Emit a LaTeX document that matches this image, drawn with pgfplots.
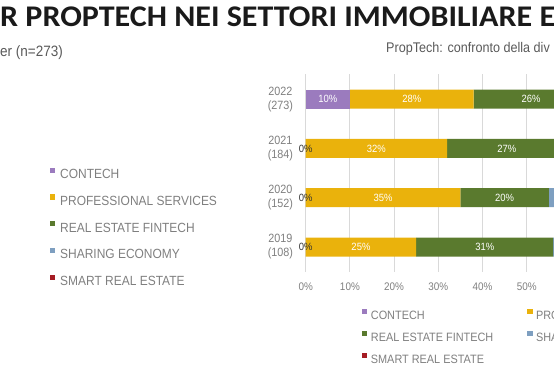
\documentclass[border=0pt]{standalone}
\usepackage{fontspec}
\setmainfont{Liberation Sans}
\newfontfamily\narrow[FakeStretch=0.9]{Liberation Sans}
\newfontfamily\titlefont[FakeStretch=1.068]{Carlito}
\usepackage{pgfplots}
\pgfplotsset{compat=1.18}
\definecolor{cCon}{HTML}{9B7BBE}
\definecolor{cPro}{HTML}{EAB20C}
\definecolor{cFin}{HTML}{5A7A2E}
\definecolor{cSha}{HTML}{7E9FC0}
\definecolor{cSma}{HTML}{A51C24}
\definecolor{txtgrey}{HTML}{7F7F7F}
\definecolor{subgrey}{HTML}{595959}
\definecolor{gridc}{HTML}{D9D9D9}
\definecolor{titlec}{HTML}{1A1A1A}
\begin{document}
\begin{tikzpicture}
\useasboundingbox (0pt,0pt) rectangle (554pt,372pt);
\clip (0pt,0pt) rectangle (554pt,372pt);
\node[anchor=base west, inner sep=0pt, text=titlec, font=\titlefont\bfseries\fontsize{30}{30}\selectfont] at (0pt,345.3pt) {R PROPTECH NEI SETTORI IMMOBILIARE E};
\node[anchor=base west, inner sep=0pt, text=subgrey, font=\narrow\fontsize{15}{15}\selectfont] at (0pt,315pt) {er (n=273)};
\node[anchor=base west, inner sep=0pt, text=subgrey, font=\narrow\fontsize{14}{14}\selectfont] at (386pt,319pt) {PropTech: confronto della div};

% main stacked bar chart
\begin{axis}[
  at={(305.7pt,100.3pt)}, anchor=south west,
  scale only axis, width=442pt, height=197.2pt,
  xmin=0, xmax=100, ymin=-0.5, ymax=3.5,
  xbar stacked, bar width=19pt,
  /pgf/number format/assume math mode=true,
  ytick={0,1,2,3},
  yticklabels={{2019\\(108)},{2020\\(152)},{2021\\(184)},{2022\\(273)}},
  yticklabel style={align=center, anchor=east, inner sep=0pt, xshift=-12.5pt, text=txtgrey, font=\narrow\fontsize{12}{14}\selectfont},
  xtick={0,10,...,50},
  xticklabel={\pgfmathprintnumber{\tick}\%},
  xticklabel style={anchor=center, inner sep=0pt, yshift=-15pt, text=txtgrey, font=\narrow\fontsize{11}{11}\selectfont},
  xmajorgrids, grid style={gridc, line width=0.9pt},
  axis line style={draw=none}, major tick length=0pt,
  clip=false,
]
\addplot[fill=cCon, draw=none] coordinates {(0,0) (0,1) (0,2) (10,3)};
\addplot[fill=cPro, draw=none] coordinates {(25,0) (35,1) (32,2) (28,3)};
\addplot[fill=cFin, draw=none] coordinates {(31,0) (20,1) (27,2) (26,3)};
\addplot[fill=cSha, draw=none] coordinates {(15,0) (13,1) (12,2) (9,3)};
\addplot[fill=cSma, draw=none] coordinates {(29,0) (32,1) (29,2) (27,3)};
\end{axis}

% data labels
\begin{axis}[
  at={(305.7pt,100.3pt)}, anchor=south west,
  scale only axis, width=442pt, height=197.2pt,
  xmin=0, xmax=100, ymin=-0.5, ymax=3.5,
  hide axis, clip=false,
]
\addplot[draw=none, nodes near coords, point meta=explicit symbolic,
  nodes near coords style={anchor=center, inner sep=0pt, text=white, font=\narrow\fontsize{10.5}{10.5}\selectfont}]
  coordinates {(5,3) [10\%] (24,3) [28\%] (51,3) [26\%]
               (16,2) [32\%] (45.5,2) [27\%]
               (17.5,1) [35\%] (45,1) [20\%]
               (12.5,0) [25\%] (40.5,0) [31\%]};
\addplot[draw=none, nodes near coords, point meta=explicit symbolic,
  nodes near coords style={anchor=center, inner sep=0pt, text=black!80, font=\narrow\fontsize{10.5}{10.5}\selectfont}]
  coordinates {(0,2) [0\%] (0,1) [0\%] (0,0) [0\%]};
\end{axis}

% left legend
\begin{axis}[
  at={(0pt,0pt)}, anchor=south west, scale only axis, width=554pt, height=372pt,
  xmin=0, xmax=1, ymin=0, ymax=1, hide axis,
  legend image code/.code={\fill[#1] (0pt,1.9pt) rectangle (5.2pt,7.1pt);},
  legend cell align=left,
  legend style={at={(0.09025,0.54973)}, anchor=north west, draw=none, fill=none, inner sep=0pt,
    font=\narrow\fontsize{13.3}{13.3}\selectfont, text=txtgrey,
    nodes={inner sep=0pt, text height=9.5pt, text depth=2pt},
    row sep=13.9pt,
    /tikz/every odd column/.append style={column sep=4.8pt}},
]
\addlegendimage{fill=cCon, draw=none}\addlegendentry{CONTECH}
\addlegendimage{fill=cPro, draw=none}\addlegendentry{PROFESSIONAL SERVICES}
\addlegendimage{fill=cFin, draw=none}\addlegendentry{REAL ESTATE FINTECH}
\addlegendimage{fill=cSha, draw=none}\addlegendentry{SHARING ECONOMY}
\addlegendimage{fill=cSma, draw=none}\addlegendentry{SMART REAL ESTATE}
\end{axis}

% bottom legend
\begin{axis}[
  at={(0pt,0pt)}, anchor=south west, scale only axis, width=554pt, height=372pt,
  xmin=0, xmax=1, ymin=0, ymax=1, hide axis,
  legend image code/.code={\fill[#1] (0pt,1.6pt) rectangle (5.5pt,7.1pt);},
  legend cell align=left, legend columns=2,
  legend style={at={(0.6529,0.17124)}, anchor=north west, draw=none, fill=none, inner sep=0pt,
    font=\narrow\fontsize{12.1}{12.1}\selectfont, text=txtgrey,
    nodes={inner sep=0pt, text height=9pt, text depth=2pt},
    row sep=9.5pt,
    /tikz/every odd column/.append style={column sep=3.5pt},
    /tikz/every even column/.append style={column sep=33.7pt}},
]
\addlegendimage{fill=cCon, draw=none}\addlegendentry{CONTECH}
\addlegendimage{fill=cPro, draw=none}\addlegendentry{PROFESSIONAL SERVICES}
\addlegendimage{fill=cFin, draw=none}\addlegendentry{REAL ESTATE FINTECH}
\addlegendimage{fill=cSha, draw=none}\addlegendentry{SHARING ECONOMY}
\addlegendimage{fill=cSma, draw=none}\addlegendentry{SMART REAL ESTATE}
\end{axis}
\end{tikzpicture}
\end{document}
